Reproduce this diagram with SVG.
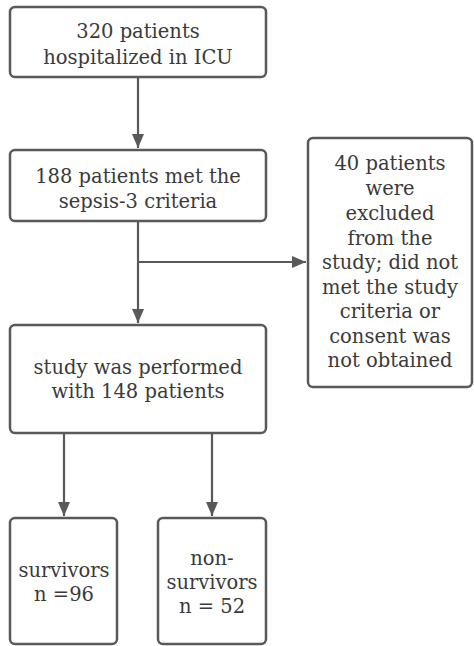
<svg xmlns="http://www.w3.org/2000/svg" width="474" height="646" viewBox="0 0 474 646">
<defs>
<style>
.box{fill:#fff;stroke:#595959;stroke-width:2.5}
.t{font-family:"DejaVu Serif","Liberation Serif",serif;font-size:19.5px;fill:#3a3a3a;text-anchor:middle}
.c{fill:none;stroke:#595959;stroke-width:2.2}
</style>
<marker id="ah" viewBox="0 0 14 12" refX="14" refY="6" markerWidth="14" markerHeight="12" markerUnits="userSpaceOnUse" orient="auto">
<path d="M0,0 L14,6 L0,12 z" fill="#595959"/>
</marker>
</defs>
<rect width="474" height="646" fill="#fff"/>
<g id="connectors">
<line class="c" x1="138" y1="77" x2="138" y2="148" marker-end="url(#ah)"/>
<line class="c" x1="138" y1="221" x2="138" y2="323" marker-end="url(#ah)"/>
<line class="c" x1="138" y1="262" x2="306" y2="262" marker-end="url(#ah)"/>
<line class="c" x1="64" y1="433" x2="64" y2="516" marker-end="url(#ah)"/>
<line class="c" x1="212" y1="433" x2="212" y2="516" marker-end="url(#ah)"/>
</g>
<g id="n1">
<rect class="box" x="10" y="7" width="256" height="70" rx="5"/>
<text class="t" x="138" y="38">320 patients</text>
<text class="t" x="138" y="64">hospitalized in ICU</text>
</g>
<g id="n2">
<rect class="box" x="10" y="150" width="256" height="71" rx="5"/>
<text class="t" x="138" y="183">188 patients met the</text>
<text class="t" x="138" y="208">sepsis-3 criteria</text>
</g>
<g id="n3">
<rect class="box" x="308" y="138" width="164" height="249" rx="5"/>
<text class="t" x="390" y="170">40 patients</text>
<text class="t" x="390" y="195">were</text>
<text class="t" x="390" y="220">excluded</text>
<text class="t" x="390" y="245">from the</text>
<text class="t" x="390" y="269">study; did not</text>
<text class="t" x="390" y="294">met the study</text>
<text class="t" x="390" y="318">criteria or</text>
<text class="t" x="390" y="343">consent was</text>
<text class="t" x="390" y="367">not obtained</text>
</g>
<g id="n4">
<rect class="box" x="10" y="325" width="256" height="108" rx="5"/>
<text class="t" x="138" y="374">study was performed</text>
<text class="t" x="138" y="398">with 148 patients</text>
</g>
<g id="n5">
<rect class="box" x="10" y="518" width="107" height="126" rx="5"/>
<text class="t" x="64" y="577">survivors</text>
<text class="t" x="64" y="601">n =96</text>
</g>
<g id="n6">
<rect class="box" x="158" y="518" width="108" height="126" rx="5"/>
<text class="t" x="212" y="565">non-</text>
<text class="t" x="212" y="589">survivors</text>
<text class="t" x="212" y="613">n = 52</text>
</g>
</svg>
